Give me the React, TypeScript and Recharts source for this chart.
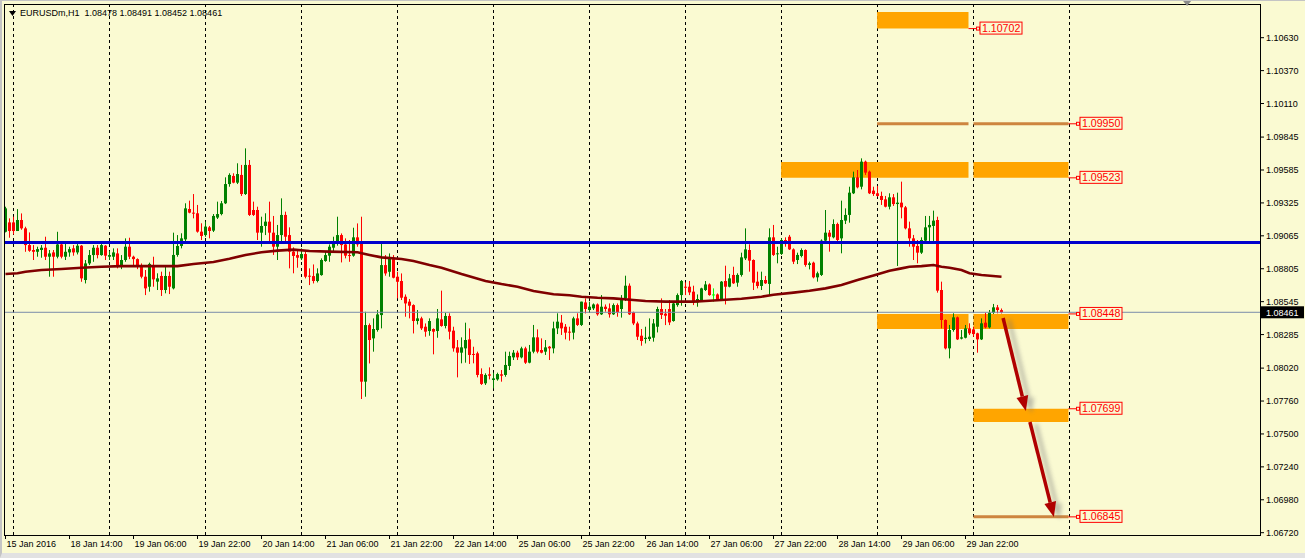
import {
  ComposedChart,
  XAxis,
  YAxis,
  Bar,
  Line,
  ReferenceLine,
  ReferenceArea,
  ReferenceDot,
} from "recharts";

// [open, high, low, close] per H1 bar
type Candle = [number, number, number, number];

const jan15: Candle[] = [
  [1.09097, 1.09295, 1.09092, 1.09282], [1.09171, 1.09203, 1.0905, 1.09103],
];
const jan18: Candle[] = [
  [1.09171, 1.09216, 1.09076, 1.09103], [1.09103, 1.09276, 1.09103, 1.0919], [1.0919, 1.09242, 1.09113, 1.09124],
  [1.09124, 1.09137, 1.08939, 1.08992], [1.08992, 1.09092, 1.08939, 1.08947], [1.08953, 1.08992, 1.08874, 1.08939],
  [1.08939, 1.08979, 1.089, 1.0896], [1.08953, 1.08992, 1.08892, 1.08971], [1.08971, 1.09058, 1.08874, 1.089],
  [1.089, 1.08953, 1.08742, 1.08926], [1.08934, 1.08953, 1.08742, 1.089], [1.089, 1.09097, 1.08887, 1.08997],
  [1.08997, 1.09018, 1.08887, 1.089], [1.089, 1.09005, 1.08874, 1.08939], [1.08934, 1.08979, 1.089, 1.0896],
  [1.08966, 1.08992, 1.08908, 1.08934], [1.08934, 1.09005, 1.08918, 1.08987], [1.08987, 1.08992, 1.08702, 1.08729],
  [1.08716, 1.08874, 1.08689, 1.08847], [1.08847, 1.08953, 1.08834, 1.08913], [1.08913, 1.08992, 1.0886, 1.08971],
  [1.08971, 1.08992, 1.08887, 1.08913], [1.08913, 1.09018, 1.08908, 1.08992], [1.08987, 1.08992, 1.08874, 1.08908],
];
const jan19: Candle[] = [
  [1.089, 1.08945, 1.08874, 1.08913], [1.089, 1.08966, 1.08874, 1.08934], [1.08926, 1.08966, 1.08808, 1.08821],
  [1.08821, 1.08913, 1.08802, 1.08874], [1.08874, 1.09045, 1.0886, 1.08979], [1.08979, 1.0905, 1.08881, 1.089],
  [1.089, 1.08908, 1.08834, 1.08881], [1.08881, 1.08887, 1.08802, 1.08829], [1.08834, 1.08847, 1.08729, 1.08742],
  [1.08742, 1.08795, 1.08597, 1.0865], [1.08663, 1.08853, 1.08624, 1.08843], [1.08827, 1.089, 1.08663, 1.08721],
  [1.08703, 1.08769, 1.08637, 1.08729], [1.08748, 1.08782, 1.0859, 1.08637], [1.08637, 1.08822, 1.08611, 1.08748],
  [1.08748, 1.08782, 1.08605, 1.08663], [1.0865, 1.0909, 1.08642, 1.08914], [1.08914, 1.09071, 1.089, 1.08985],
  [1.08985, 1.09085, 1.08966, 1.09045], [1.09037, 1.09322, 1.09006, 1.09282], [1.09277, 1.09343, 1.09243, 1.09248],
  [1.09248, 1.09395, 1.09203, 1.09243], [1.09243, 1.09309, 1.0909, 1.09098], [1.09098, 1.09164, 1.09032, 1.09064],
];
const jan20: Candle[] = [
  [1.09071, 1.09177, 1.09058, 1.09138], [1.09132, 1.09143, 1.09045, 1.09103], [1.09106, 1.09237, 1.09095, 1.09222],
  [1.09209, 1.09335, 1.09198, 1.09237], [1.09237, 1.0934, 1.09227, 1.09322], [1.09322, 1.09527, 1.09316, 1.09474],
  [1.09474, 1.09559, 1.09453, 1.09546], [1.09538, 1.09559, 1.0948, 1.09485], [1.09485, 1.09638, 1.09474, 1.09553],
  [1.09546, 1.09625, 1.0938, 1.09395], [1.09395, 1.09756, 1.09388, 1.09625], [1.09625, 1.09664, 1.09222, 1.0923],
  [1.09269, 1.09335, 1.09222, 1.0923], [1.09269, 1.09295, 1.09032, 1.0909], [1.0909, 1.09216, 1.08979, 1.09143],
  [1.09143, 1.09243, 1.09071, 1.09177], [1.09177, 1.09335, 1.09006, 1.0909], [1.0909, 1.09222, 1.08914, 1.08979],
  [1.08979, 1.09151, 1.08874, 1.09071], [1.09071, 1.09361, 1.09019, 1.0923], [1.0923, 1.09256, 1.09006, 1.09058],
  [1.09071, 1.09132, 1.08808, 1.0894], [1.0894, 1.08974, 1.08769, 1.08906], [1.08913, 1.08961, 1.08813, 1.08892],
];
const jan21: Candle[] = [
  [1.08887, 1.08966, 1.08874, 1.08921], [1.08921, 1.08939, 1.08729, 1.08742], [1.0875, 1.08808, 1.08676, 1.08742],
  [1.08747, 1.08839, 1.08689, 1.08708], [1.08708, 1.08808, 1.08697, 1.08768], [1.08755, 1.08887, 1.0875, 1.08874],
  [1.08866, 1.08939, 1.0886, 1.08913], [1.08908, 1.08997, 1.0886, 1.08979], [1.08971, 1.09058, 1.08934, 1.09018],
  [1.09005, 1.09216, 1.08987, 1.09071], [1.09071, 1.09084, 1.08855, 1.08992], [1.08997, 1.09045, 1.08887, 1.08908],
  [1.08913, 1.09032, 1.0886, 1.08908], [1.08908, 1.09129, 1.089, 1.09053], [1.09053, 1.09163, 1.08979, 1.08997],
  [1.09013, 1.09216, 1.07776, 1.07913], [1.07913, 1.08465, 1.07794, 1.0836], [1.0836, 1.08373, 1.08057, 1.08242],
  [1.08255, 1.08413, 1.0815, 1.08329], [1.08321, 1.08479, 1.08308, 1.08444], [1.08439, 1.09005, 1.08334, 1.08834],
  [1.08834, 1.08913, 1.0875, 1.08768], [1.08781, 1.08926, 1.08742, 1.08887], [1.08892, 1.08913, 1.08729, 1.08734],
];
const jan22: Candle[] = [
  [1.08742, 1.08781, 1.08571, 1.08702], [1.08708, 1.08768, 1.08558, 1.08576], [1.08584, 1.08602, 1.08426, 1.08531],
  [1.08545, 1.08566, 1.08413, 1.08513], [1.08518, 1.08524, 1.08294, 1.08392], [1.08392, 1.08479, 1.08365, 1.08413],
  [1.08413, 1.08426, 1.08321, 1.08334], [1.08347, 1.08373, 1.08268, 1.08308], [1.08313, 1.08413, 1.08276, 1.08392],
  [1.08329, 1.08334, 1.08129, 1.08308], [1.08313, 1.08487, 1.0826, 1.08413], [1.08405, 1.08632, 1.08347, 1.08353],
  [1.08353, 1.08458, 1.08334, 1.08432], [1.08432, 1.08453, 1.08247, 1.08308], [1.08316, 1.08347, 1.0815, 1.08176],
  [1.08184, 1.08242, 1.07947, 1.08142], [1.08142, 1.08263, 1.08058, 1.08184], [1.08176, 1.08379, 1.08063, 1.08242],
  [1.08247, 1.08334, 1.08053, 1.08124], [1.08132, 1.08189, 1.08058, 1.08126], [1.08137, 1.0815, 1.07947, 1.07966],
  [1.07973, 1.08018, 1.07887, 1.07895], [1.079, 1.07979, 1.07887, 1.07966], [1.07971, 1.08026, 1.07931, 1.0796],
];
const jan25: Candle[] = [
  [1.07926, 1.07984, 1.0786, 1.07939], [1.07931, 1.07984, 1.07921, 1.07973], [1.07971, 1.08005, 1.07913, 1.0796],
  [1.07966, 1.0815, 1.07952, 1.08045], [1.08037, 1.0815, 1.08005, 1.08116], [1.08105, 1.08163, 1.08084, 1.08142],
  [1.08142, 1.08158, 1.08084, 1.08105], [1.08105, 1.08189, 1.08097, 1.08176], [1.08176, 1.08189, 1.08053, 1.08063],
  [1.08063, 1.08203, 1.08058, 1.0815], [1.0815, 1.08361, 1.08137, 1.08263], [1.08263, 1.08326, 1.08137, 1.0815],
  [1.08163, 1.08255, 1.08137, 1.08142], [1.0815, 1.08242, 1.08124, 1.08184], [1.08189, 1.08195, 1.08084, 1.08176],
  [1.08176, 1.08387, 1.08137, 1.08334], [1.08334, 1.08453, 1.08289, 1.08387], [1.08379, 1.0844, 1.08282, 1.08334],
  [1.08347, 1.08368, 1.08247, 1.083], [1.08308, 1.08347, 1.08237, 1.083], [1.083, 1.08426, 1.08247, 1.08413],
  [1.08413, 1.08453, 1.08353, 1.08361], [1.08361, 1.08545, 1.08353, 1.08545], [1.08539, 1.08571, 1.08452, 1.08487],
];
const jan26: Candle[] = [
  [1.08479, 1.08545, 1.08466, 1.08505], [1.08492, 1.08531, 1.08479, 1.08523], [1.08523, 1.08531, 1.08434, 1.08445],
  [1.08445, 1.08597, 1.0844, 1.08505], [1.08505, 1.08523, 1.08466, 1.08487], [1.08492, 1.08531, 1.08419, 1.08445],
  [1.08445, 1.08531, 1.0844, 1.08518], [1.08518, 1.08531, 1.08426, 1.08461], [1.08487, 1.08597, 1.08419, 1.08571],
  [1.08571, 1.0875, 1.0855, 1.08671], [1.08671, 1.08689, 1.0844, 1.08445], [1.08461, 1.08466, 1.0836, 1.08373],
  [1.08373, 1.08387, 1.08242, 1.08268], [1.08276, 1.08329, 1.08197, 1.08234], [1.0825, 1.08347, 1.08215, 1.0826],
  [1.0825, 1.08413, 1.08234, 1.08268], [1.0826, 1.08408, 1.08229, 1.08373], [1.08347, 1.08505, 1.08302, 1.08487],
  [1.08487, 1.08571, 1.08408, 1.0844], [1.0845, 1.08487, 1.0836, 1.08434], [1.08487, 1.08558, 1.0836, 1.08381],
  [1.08392, 1.08539, 1.08387, 1.08531], [1.08518, 1.0861, 1.08505, 1.08597], [1.08597, 1.08716, 1.08513, 1.08708],
];
const jan27: Candle[] = [
  [1.08663, 1.08697, 1.08597, 1.08655], [1.08663, 1.08708, 1.08597, 1.08618], [1.08624, 1.08671, 1.08518, 1.08539],
  [1.08539, 1.08602, 1.08505, 1.08566], [1.08558, 1.08655, 1.0855, 1.0865], [1.08637, 1.08708, 1.08629, 1.08681],
  [1.08681, 1.08689, 1.08592, 1.08597], [1.08602, 1.0865, 1.08545, 1.08602], [1.08602, 1.0861, 1.0855, 1.08558],
  [1.08558, 1.08708, 1.0855, 1.08703], [1.08708, 1.08829, 1.08523, 1.08663], [1.08663, 1.08764, 1.08658, 1.08729],
  [1.08756, 1.08821, 1.08685, 1.0869], [1.08695, 1.08769, 1.08663, 1.08756], [1.08756, 1.08932, 1.08743, 1.08895],
  [1.08887, 1.09124, 1.08874, 1.08958], [1.08953, 1.08998, 1.08782, 1.08869], [1.08874, 1.08879, 1.08637, 1.08695],
  [1.08703, 1.08782, 1.0865, 1.08669], [1.08669, 1.08782, 1.08637, 1.08716], [1.08716, 1.08748, 1.08685, 1.0869],
  [1.08685, 1.09124, 1.08598, 1.09053], [1.09053, 1.09151, 1.08906, 1.08914], [1.08919, 1.08979, 1.08848, 1.08927],
];
const jan28: Candle[] = [
  [1.08922, 1.09045, 1.08914, 1.09032], [1.09032, 1.09053, 1.08979, 1.09], [1.09058, 1.09072, 1.08953, 1.08958],
  [1.08958, 1.08966, 1.08842, 1.08861], [1.08874, 1.08932, 1.08842, 1.08914], [1.08906, 1.08966, 1.08895, 1.08953],
  [1.08953, 1.08958, 1.08821, 1.08835], [1.08835, 1.08861, 1.088, 1.08848], [1.08853, 1.08861, 1.08729, 1.08737],
  [1.08737, 1.08782, 1.08703, 1.08769], [1.08756, 1.09037, 1.08748, 1.09027], [1.09027, 1.09269, 1.09019, 1.0909],
  [1.0909, 1.09111, 1.0894, 1.09058], [1.09053, 1.09195, 1.09045, 1.09158], [1.09158, 1.09169, 1.09011, 1.09032],
  [1.09045, 1.09343, 1.08927, 1.0919], [1.09185, 1.09282, 1.09158, 1.0923], [1.0923, 1.09453, 1.09169, 1.09406],
  [1.09401, 1.09572, 1.09395, 1.09527], [1.09527, 1.09585, 1.0944, 1.09448], [1.09453, 1.09677, 1.09432, 1.09651],
  [1.09651, 1.09659, 1.09546, 1.09564], [1.09572, 1.0958, 1.09395, 1.09401], [1.09422, 1.09453, 1.0938, 1.09395],
];
const jan29: Candle[] = [
  [1.09401, 1.09459, 1.09374, 1.0938], [1.0938, 1.09414, 1.09309, 1.09348], [1.09353, 1.0938, 1.0929, 1.09295],
  [1.09295, 1.09401, 1.09274, 1.09369], [1.09369, 1.09395, 1.09301, 1.09316], [1.09316, 1.09406, 1.08827, 1.09327],
  [1.09327, 1.09493, 1.09203, 1.0929], [1.0929, 1.09301, 1.09116, 1.09124], [1.09124, 1.09177, 1.08979, 1.09045],
  [1.09045, 1.09072, 1.08874, 1.08979], [1.08985, 1.09032, 1.08848, 1.08932], [1.08932, 1.09053, 1.08922, 1.09032],
  [1.09027, 1.09222, 1.09006, 1.09132], [1.09132, 1.09222, 1.09019, 1.09151], [1.09143, 1.09264, 1.09019, 1.09185],
  [1.0919, 1.09216, 1.08616, 1.08632], [1.08637, 1.08703, 1.08334, 1.084], [1.084, 1.08405, 1.08168, 1.08176],
  [1.08176, 1.08361, 1.08097, 1.08321], [1.08321, 1.08453, 1.08308, 1.08421], [1.08421, 1.08427, 1.08242, 1.08247],
  [1.08253, 1.08321, 1.08247, 1.08263], [1.0826, 1.08361, 1.08255, 1.08334], [1.08334, 1.08374, 1.08282, 1.08295],
];
const lastSession: Candle[] = [
  [1.08326, 1.08347, 1.08268, 1.08289], [1.08295, 1.083, 1.08142, 1.08247], [1.08247, 1.08413, 1.08242, 1.08374],
  [1.08379, 1.08458, 1.08334, 1.08342], [1.08342, 1.08479, 1.08334, 1.08458], [1.08458, 1.08527, 1.08448, 1.085],
  [1.085, 1.08519, 1.08453, 1.08479], [1.08478, 1.08491, 1.08452, 1.08461],
];

// moving average read at sample bars
const maIndex = [0, 3, 5, 9, 14, 19, 24, 29, 35, 43, 47, 52, 56, 60, 64, 68, 72, 76, 81, 88, 91, 94, 99, 102, 106, 109, 114, 120, 124, 128, 132, 137, 141, 144, 148, 152, 157, 160, 165, 172, 175, 180, 184, 189, 192, 197, 201, 205, 209, 213, 217, 221, 224, 226, 229, 232, 234, 236, 239, 241, 244, 249];
const maValue = [1.08763, 1.08769, 1.08781, 1.08795, 1.08803, 1.08813, 1.08821, 1.08826, 1.08826, 1.08826, 1.08842, 1.08858, 1.08884, 1.08914, 1.08935, 1.08948, 1.08956, 1.08945, 1.0894, 1.08935, 1.08914, 1.08895, 1.08882, 1.08866, 1.08834, 1.08813, 1.08763, 1.08708, 1.08684, 1.08663, 1.08629, 1.08603, 1.08595, 1.08584, 1.08576, 1.08571, 1.08558, 1.0855, 1.08545, 1.08545, 1.0855, 1.0856, 1.08568, 1.08584, 1.086, 1.08616, 1.08631, 1.0865, 1.08676, 1.08716, 1.08752, 1.08789, 1.08808, 1.08821, 1.08826, 1.08834, 1.08821, 1.08813, 1.08795, 1.08769, 1.08756, 1.08742];

const yTicks = [1.1063, 1.1037, 1.1011, 1.09845, 1.09585, 1.09325, 1.09065, 1.08805, 1.08545, 1.08285, 1.0802, 1.0776, 1.075, 1.0724, 1.0698, 1.0672];
const xTickIndex = [0, 16, 32, 48, 64, 80, 96, 112, 128, 144, 160, 176, 192, 208, 224, 240];
const xTickLabel = ["15 Jan 2016", "18 Jan 14:00", "19 Jan 06:00", "19 Jan 22:00", "20 Jan 14:00", "21 Jan 06:00", "21 Jan 22:00", "22 Jan 14:00", "25 Jan 06:00", "25 Jan 22:00", "26 Jan 14:00", "27 Jan 06:00", "27 Jan 22:00", "28 Jan 14:00", "29 Jan 06:00", "29 Jan 22:00"];
const gridIndex = [2, 26, 50, 74, 98, 122, 146, 170, 194, 218, 242, 266];

const supportLevel = 1.09012;
const lastPrice = 1.08461;

// supply / demand zones (bar index span, price span)
const zoneStart = [217.9, 193.9, 242, 217.9, 242, 242];
const zoneEnd = [240.75, 240.75, 265.75, 240.75, 265.75, 265.75];
const zoneTop = [1.10833, 1.09648, 1.09648, 1.08448, 1.08448, 1.07699];
const zoneBottom = [1.10702, 1.09523, 1.09523, 1.08329, 1.08329, 1.07594];

// thin target lines
const levelStart = [217.9, 242, 242];
const levelEnd = [240.75, 265.75, 265.75];
const levelPrice = [1.0995, 1.0995, 1.06845];

const tagAt = [240.75, 265.75, 265.75, 265.75, 265.75, 265.75];
const tagPrice = [1.10702, 1.0995, 1.09523, 1.08448, 1.07699, 1.06845];

const arrowFrom = [249.4, 256.1];
const arrowTo = [255.1, 262.1];
const arrowFromPrice = [1.08416, 1.07594];
const arrowToPrice = [1.07681, 1.06843];

const X_MIN = -0.375;
const X_MAX = 313.625;
const Y_MIN = 1.067018;
const Y_MAX = 1.108962;

const BG = "#FAFAD2";
const UP = "#008000";
const DOWN = "#FF0000";
const DOJI = "#00FF00";
const FONT = "'Liberation Sans', Arial, sans-serif";

const candles = [...jan15, ...jan18, ...jan19, ...jan20, ...jan21, ...jan22, ...jan25, ...jan26, ...jan27, ...jan28, ...jan29, ...lastSession];
const maLookup = new Map(maIndex.map((k, j) => [k, maValue[j]]));
const rows = candles.map(([o, h, l, c], i) => ({
  i, o, h, l, c,
  range: [l, h],
  ma: maLookup.has(i) ? maLookup.get(i) : null,
}));

const CandleShape = (props: any) => {
  const { x, y, width, height, payload } = props;
  if (!payload) return null;
  const { o, h, l, c } = payload;
  const top0 = height < 0 ? y + height : y;
  const hh = Math.abs(height);
  const ppu = h > l ? hh / (h - l) : 0;
  const bTop = top0 + (h - Math.max(o, c)) * ppu;
  const bBot = top0 + (h - Math.min(o, c)) * ppu;
  const color = c > o ? UP : c < o ? DOWN : DOJI;
  const mid = Math.round(x + width / 2 - 0.5);
  const left = Math.round(x);
  return (
    <g>
      <rect x={mid} y={top0} width={1} height={Math.max(hh, 1)} fill={color} />
      <rect x={left} y={bTop} width={3} height={Math.max(bBot - bTop, 1)} fill={color} />
    </g>
  );
};

const TimeTick = (props: any) => {
  const { x, y, payload } = props;
  const k = xTickIndex.indexOf(payload.value);
  return (
    <g>
      <line x1={x} y1={y} x2={x} y2={y + 4} stroke="#000" shapeRendering="crispEdges" />
      <text x={x + 1} y={y + 12} fontSize={9} fill="#000" fontFamily={FONT} textAnchor="start">
        {xTickLabel[k]}
      </text>
    </g>
  );
};

const PriceTag = ({ cx, cy, text }: { cx: number; cy: number; text: string }) => (
  <g>
    <line x1={cx} y1={cy} x2={cx + 8} y2={cy} stroke="#FF0000" />
    <rect x={cx + 8} y={cy - 1.5} width={3} height={3} fill="none" stroke="#FF0000" />
    <rect x={cx + 11.5} y={cy - 6.5} width={42} height={12} fill={BG} stroke="#FF0000" />
    <text x={cx + 13.5} y={cy + 3.5} fontSize={10.6} fill="#FF0000" fontFamily={FONT}>
      {text}
    </text>
  </g>
);

const Arrow = (props: any) => {
  const { x1, y1, x2, y2, id } = props;
  const dx = x2 - x1;
  const dy = y2 - y1;
  const len = Math.hypot(dx, dy) || 1;
  const ux = dx / len;
  const uy = dy / len;
  const bx = x2 - ux * 15;
  const by = y2 - uy * 15;
  const head = `${x2},${y2} ${bx - uy * 6},${by + ux * 6} ${bx + uy * 6},${by - ux * 6}`;
  return (
    <g>
      <defs>
        <filter id={`blur${id}`} x="-50%" y="-50%" width="200%" height="200%">
          <feGaussianBlur stdDeviation="2" />
        </filter>
      </defs>
      <g transform="translate(6,2)" opacity={0.45} filter={`url(#blur${id})`}>
        <line x1={x1} y1={y1} x2={bx} y2={by} stroke="#777" strokeWidth={4} />
        <polygon points={head} fill="#777" />
      </g>
      <line x1={x1} y1={y1} x2={bx} y2={by} stroke="#B00000" strokeWidth={3.5} />
      <polygon points={head} fill="#B00000" />
    </g>
  );
};

export default function App() {
  return (
    <div
      style={{
        position: "absolute",
        left: 0,
        top: 0,
        width: 1305,
        height: 558,
        boxSizing: "border-box",
        background: BG,
        borderLeft: "2px solid #c4c4c4",
        borderTop: "1px solid #c4c4c4",
        borderBottom: "5px solid #e2e2e2",
        fontFamily: FONT,
      }}
    >
      <ComposedChart
        width={1303}
        height={552}
        data={rows}
        margin={{ top: 3, right: 0, bottom: 0, left: 2 }}
      >
        <XAxis
          dataKey="i"
          type="number"
          domain={[X_MIN, X_MAX]}
          allowDataOverflow
          ticks={xTickIndex}
          interval={0}
          height={18}
          tickSize={0}
          tickMargin={0}
          axisLine={false}
          tickLine={false}
          tick={<TimeTick />}
        />
        <YAxis
          orientation="right"
          type="number"
          domain={[Y_MIN, Y_MAX]}
          allowDataOverflow
          ticks={yTicks}
          interval={0}
          width={45}
          tickSize={4}
          tickMargin={2}
          axisLine={false}
          tickLine={{ stroke: "#000" }}
          tick={{ fontSize: 9, fill: "#000", fontFamily: FONT }}
          tickFormatter={(v: number) => v.toFixed(5)}
        />

        {gridIndex.map((g) => (
          <ReferenceLine key={`g${g}`} x={g} stroke="#000" strokeDasharray="3 3" zIndex={-50} />
        ))}

        {zoneStart.map((s, k) => (
          <ReferenceArea
            key={`z${k}`}
            x1={s}
            x2={zoneEnd[k]}
            y1={zoneBottom[k]}
            y2={zoneTop[k]}
            fill="#FFA500"
            fillOpacity={1}
            stroke="none"
            ifOverflow="visible"
            zIndex={50}
          />
        ))}

        {levelStart.map((s, k) => (
          <ReferenceLine
            key={`lv${k}`}
            segment={[{ x: s, y: levelPrice[k] }, { x: levelEnd[k], y: levelPrice[k] }]}
            stroke="#CD853F"
            strokeWidth={3}
            zIndex={60}
          />
        ))}

        <Bar
          dataKey="range"
          barSize={3}
          shape={<CandleShape />}
          isAnimationActive={false}
        />

        <Line
          dataKey="ma"
          type="linear"
          stroke="#800000"
          strokeWidth={2.6}
          dot={false}
          activeDot={false}
          connectNulls
          isAnimationActive={false}
        />

        <ReferenceLine y={supportLevel} stroke="#0000CD" strokeWidth={3} zIndex={450} />
        <ReferenceLine y={lastPrice} stroke="#7A8CAA" strokeWidth={1} zIndex={450} />

        <ReferenceArea
          x1={X_MIN}
          x2={X_MAX}
          y1={Y_MIN}
          y2={Y_MAX}
          fill="none"
          stroke="#000"
          shapeRendering="crispEdges"
          zIndex={460}
        />

        {arrowFrom.map((s, k) => (
          <ReferenceLine
            key={`a${k}`}
            segment={[{ x: s, y: arrowFromPrice[k] }, { x: arrowTo[k], y: arrowToPrice[k] }]}
            ifOverflow="visible"
            shape={(p: any) => <Arrow {...p} id={k} />}
            zIndex={900}
          />
        ))}

        {tagAt.map((t, k) => (
          <ReferenceDot
            key={`t${k}`}
            x={t}
            y={tagPrice[k]}
            ifOverflow="visible"
            shape={(p: any) => <PriceTag cx={p.cx} cy={p.cy} text={tagPrice[k].toFixed(5)} />}
            zIndex={1000}
          />
        ))}

        <ReferenceDot
          x={X_MAX}
          y={lastPrice}
          ifOverflow="visible"
          shape={(p: any) => (
            <g>
              <rect x={p.cx + 1} y={p.cy - 6} width={43} height={12} fill="#000" />
              <text x={p.cx + 6} y={p.cy + 3.5} fontSize={9} fill="#fff" fontFamily={FONT}>
                {lastPrice.toFixed(5)}
              </text>
            </g>
          )}
          zIndex={1000}
        />
        <ReferenceDot
          x={295.4}
          y={Y_MAX}
          ifOverflow="visible"
          shape={(p: any) => (
            <polygon
              points={`${p.cx - 4},${p.cy - 3} ${p.cx + 4},${p.cy - 3} ${p.cx},${p.cy + 2}`}
              fill="#8a8a8a"
            />
          )}
          zIndex={1000}
        />
      </ComposedChart>

      <svg
        width={7}
        height={5}
        style={{ position: "absolute", left: 7, top: 10 }}
      >
        <polygon points="0,0 7,0 3.5,5" fill="#000" />
      </svg>
      <div
        style={{
          position: "absolute",
          left: 18,
          top: 7,
          fontSize: 9,
          lineHeight: "10px",
          color: "#000",
          whiteSpace: "pre",
        }}
      >
        {"EURUSDm,H1  1.08478 1.08491 1.08452 1.08461"}
      </div>
    </div>
  );
}
